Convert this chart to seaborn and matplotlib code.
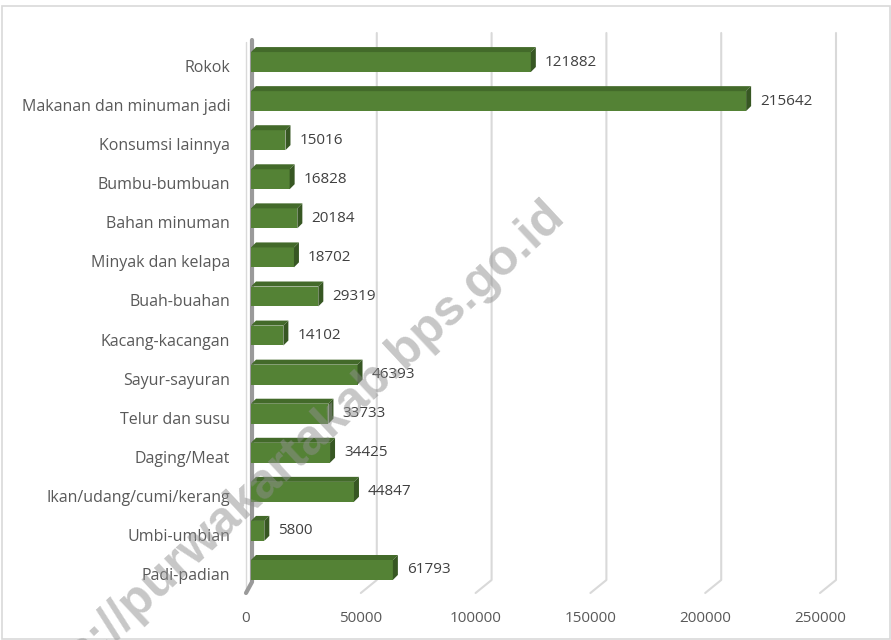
import pandas as pd
import matplotlib.pyplot as plt
import seaborn as sns
from matplotlib.patches import Polygon, Rectangle
from matplotlib.lines import Line2D
from matplotlib.transforms import IdentityTransform, offset_copy, ScaledTranslation

# Data (urut dari atas ke bawah)
kategori = ['Rokok', 'Makanan dan minuman jadi', 'Konsumsi lainnya', 'Bumbu-bumbuan',
            'Bahan minuman', 'Minyak dan kelapa', 'Buah-buahan', 'Kacang-kacangan',
            'Sayur-sayuran', 'Telur dan susu', 'Daging/Meat', 'Ikan/udang/cumi/kerang',
            'Umbi-umbian', 'Padi-padian']
nilai = [121882, 215642, 15016, 16828, 20184, 18702, 29319, 14102,
         46393, 33733, 34425, 44847, 5800, 61793]
tick_x = [0, 50000, 100000, 150000, 200000, 250000]

sns.set_theme(style='white')
plt.rcParams['font.family'] = ['Open Sans', 'DejaVu Sans']

W, H = 891, 640
fig = plt.figure(figsize=(W / 100, H / 100), dpi=100)
ax = fig.add_axes([251 / W, 1 - 589.5 / H, 574 / W, 547 / H])

df = pd.DataFrame({'Kategori': kategori, 'Nilai': nilai})
sns.barplot(data=df, y='Kategori', x='Nilai', orient='h', color='#548235',
            saturation=1, width=0.51, linewidth=0, ax=ax, zorder=4)
ax.set_xlim(0, 250000)
ax.set_ylim(len(kategori) - 0.5, -0.5)
ax.set_xlabel('')
ax.set_ylabel('')
ax.set_xticks([])
for s in ax.spines.values():
    s.set_visible(False)
ax.tick_params(axis='y', length=0, pad=15, labelsize=11.5, labelcolor='#595959')
geser = ScaledTranslation(0, -4 / 100, fig.dpi_scale_trans)
for lab in ax.get_yticklabels():
    lab.set_transform(lab.get_transform() + geser)

idt = IdentityTransform()


def dx(v):
    return ax.transData.transform((v, 0))[0]


# gridlines (dinding belakang + lantai miring)
for t in tick_x[1:]:
    x = dx(t)
    ax.add_line(Line2D([x + 11, x + 11, x - 5], [H - 33, H - 580, H - 593],
                       transform=idt, color='#d9d9d9', lw=1.5, clip_on=False, zorder=1))

# dinding kiri
x0 = dx(0)
ax.add_line(Line2D([x0 - 5, x0 - 5], [H - 42, H - 593], transform=idt,
                   color='#d9d9d9', lw=1, clip_on=False, zorder=1))
ax.add_line(Line2D([x0 + 1, x0 + 1, x0 - 5], [H - 40, H - 582, H - 593], transform=idt,
                   color='#9a9a9a', lw=3, clip_on=False, zorder=2))

# sisi 3D batang
for p in ax.patches:
    (ax0, ay0), (ax1, ay1) = ax.transData.transform(
        [(p.get_x(), p.get_y()), (p.get_x() + p.get_width(), p.get_y() + p.get_height())])
    top = max(ay0, ay1)
    bot = min(ay0, ay1)
    ax.add_patch(Polygon([(ax0, top), (ax1, top), (ax1 + 5, top + 5), (ax0 + 5, top + 5)],
                         closed=True, transform=idt, facecolor='#436a2a', edgecolor='none',
                         clip_on=False, zorder=4))
    ax.add_patch(Polygon([(ax1, top), (ax1, bot), (ax1 + 5, bot + 5), (ax1 + 5, top + 5)],
                         closed=True, transform=idt, facecolor='#375723', edgecolor='none',
                         clip_on=False, zorder=4))

# label nilai
lbl_tr = offset_copy(ax.transData, fig=fig, x=14, y=0, units='dots')
for i, v in enumerate(nilai):
    ax.text(v, i, str(v), transform=lbl_tr, ha='left', va='center',
            fontsize=11, color='#404040', zorder=5)

# label sumbu x
for t in tick_x:
    fig.text(dx(t) - 5, H - 618, str(t), transform=idt, ha='center', va='center',
             fontsize=11, color='#595959')

# bingkai
fig.patches.append(Rectangle((1.5, 1.5), W - 3, H - 7, transform=idt, fill=False,
                             edgecolor='#d9d9d9', lw=1.2))

# watermark
fig.text(557, H - 208, 'https://purwakartakab.bps.go.id', transform=idt,
         ha='right', va='center', rotation=43, rotation_mode='anchor',
         family='Liberation Sans', fontweight='bold', fontsize=36,
         color='#8f8f8f', alpha=0.5, zorder=10)

fig.savefig('out.png', dpi=100)
